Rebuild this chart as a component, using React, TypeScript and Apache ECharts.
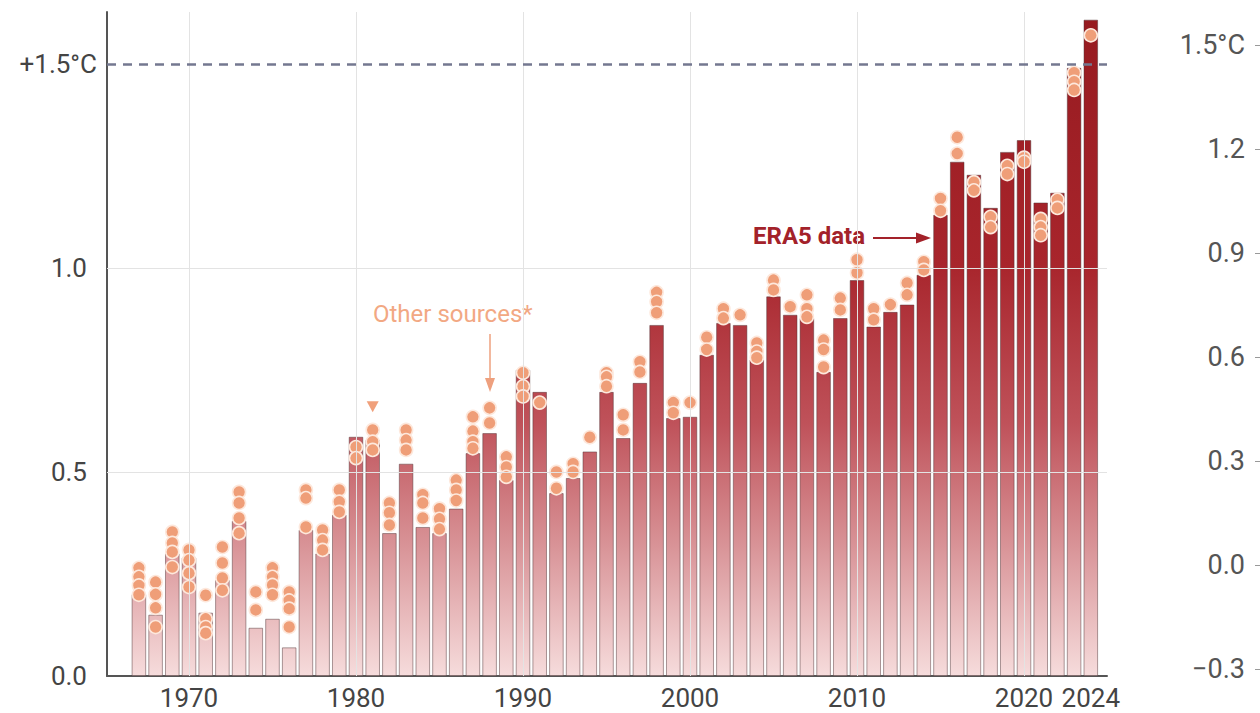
import React, { useEffect, useRef } from "react";
import * as echarts from "echarts";

const years: number[] = [];
for (let y = 1967; y <= 2024; y++) years.push(y);

const era5: number[] = [
  0.2, 0.15, 0.3, 0.29, 0.155, 0.235, 0.38, 0.118, 0.14, 0.07,
  0.358, 0.3, 0.395, 0.586, 0.578, 0.35, 0.52, 0.365, 0.35, 0.41,
  0.546, 0.595, 0.48, 0.75, 0.696, 0.448, 0.485, 0.55, 0.696, 0.583,
  0.718, 0.86, 0.632, 0.635, 0.787, 0.865, 0.86, 0.775, 0.93, 0.885,
  0.877, 0.745, 0.877, 0.97, 0.856, 0.892, 0.91, 0.983, 1.13, 1.26,
  1.228, 1.147, 1.284, 1.313, 1.16, 1.184, 1.49, 1.608,
];

const otherSources: number[][] = [
  [0.265, 0.243, 0.222, 0.199], // 1967
  [0.23, 0.2, 0.167, 0.12],
  [0.353, 0.326, 0.304, 0.267],
  [0.309, 0.284, 0.252, 0.218], // 1970
  [0.198, 0.14, 0.12, 0.105],
  [0.316, 0.277, 0.24, 0.21],
  [0.451, 0.424, 0.387, 0.35],
  [0.206, 0.162],
  [0.265, 0.243, 0.223, 0.199], // 1975
  [0.206, 0.185, 0.165, 0.12],
  [0.456, 0.436, 0.365],
  [0.358, 0.333, 0.309],
  [0.456, 0.427, 0.402],
  [0.561, 0.534], // 1980
  [0.603, 0.574, 0.554],
  [0.424, 0.4, 0.37],
  [0.603, 0.578, 0.554],
  [0.444, 0.424, 0.387],
  [0.41, 0.385, 0.36], // 1985
  [0.48, 0.456, 0.43],
  [0.635, 0.6, 0.574, 0.558],
  [0.657, 0.62],
  [0.537, 0.512, 0.488],
  [0.743, 0.71, 0.685], // 1990
  [0.67],
  [0.5, 0.46],
  [0.52, 0.5],
  [0.585],
  [0.743, 0.733, 0.71], // 1995
  [0.64, 0.603],
  [0.77, 0.745],
  [0.94, 0.917, 0.89],
  [0.67, 0.645],
  [0.67], // 2000
  [0.83, 0.8],
  [0.9, 0.877],
  [0.885],
  [0.816, 0.795, 0.78],
  [0.97, 0.946], // 2005
  [0.905],
  [0.934, 0.9, 0.88],
  [0.823, 0.8, 0.757],
  [0.926, 0.897],
  [1.02, 0.988], // 2010
  [0.9, 0.873],
  [0.91],
  [0.963, 0.934],
  [1.015, 0.995],
  [1.17, 1.14], // 2015
  [1.32, 1.28],
  [1.21, 1.19],
  [1.125, 1.1],
  [1.25, 1.23],
  [1.27, 1.26], // 2020
  [1.12, 1.1, 1.08],
  [1.167, 1.147],
  [1.478, 1.456, 1.436],
  [1.57], // 2024
];

const xLabelValues: number[] = [1970, 1980, 1990, 2000, 2010, 2020, 2024];
const xGridValues: number[] = [1970, 1980, 1990, 2000, 2010, 2020];
const yLabelValues: number[] = [0, 0.5, 1.0, 1.5];
const yGridValues: number[] = [0.5, 1.0];
const limitValue = 1.5;
const triangleMarker: number[][] = [[1981, 0.66]];

const FONT = "Roboto, 'Liberation Sans', sans-serif";

export default function App() {
  const ref = useRef<HTMLDivElement>(null);

  useEffect(() => {
    if (!ref.current) return;
    document.body.style.margin = "0";
    const chart = echarts.init(ref.current, undefined, { renderer: "svg" });

    const barData = years.map((y, i) => [y, era5[i]]);
    const pointData: number[][] = [];
    years.forEach((y, i) => {
      otherSources[i].forEach((v) => pointData.push([y, v]));
    });

    const option: any = {
      animation: false,
      backgroundColor: "#ffffff",
      grid: [
        { left: 107, right: 153, top: 12, bottom: 37 },
        { left: 1255, right: 0, top: 45, bottom: 44 },
      ],
      xAxis: [
        {
          type: "value",
          gridIndex: 0,
          min: 1965.09,
          max: 2024.97,
          axisLine: { show: true, lineStyle: { color: "#555", width: 2 } },
          axisTick: { show: false },
          splitLine: { show: false },
          axisLabel: {
            customValues: xLabelValues,
            color: "#444",
            fontFamily: FONT,
            fontSize: 26,
            margin: 9,
            formatter: (v: number) => String(v),
          },
        },
        { type: "value", gridIndex: 1, show: false, min: 0, max: 1 },
      ],
      yAxis: [
        {
          type: "value",
          gridIndex: 0,
          min: 0,
          max: 1.627,
          axisLine: { show: true, lineStyle: { color: "#555", width: 2 } },
          axisTick: { show: false },
          splitLine: { show: false },
          axisLabel: {
            customValues: yLabelValues,
            color: "#444",
            fontFamily: FONT,
            fontSize: 26,
            margin: 20,
            formatter: (v: number) => (v === 1.5 ? "" : v.toFixed(1)),
          },
        },
        {
          type: "value",
          gridIndex: 1,
          min: -0.3,
          max: 1.5,
          interval: 0.3,
          axisLine: { show: false },
          axisTick: { show: true, inside: true, length: 5, lineStyle: { color: "#999" } },
          splitLine: { show: false },
          axisLabel: {
            color: "#555",
            fontFamily: FONT,
            fontSize: 27,
            margin: 10,
            formatter: (v: number) => {
              const r = Math.round(v * 10) / 10;
              if (r === 1.5) return "1.5°C";
              if (r < 0) return "−" + Math.abs(r).toFixed(1);
              return r.toFixed(1);
            },
          },
        },
      ],
      series: [
        {
          type: "line",
          xAxisIndex: 0,
          yAxisIndex: 0,
          data: [[1970, 0]],
          symbol: "none",
          lineStyle: { opacity: 0 },
          silent: true,
          z: 1,
          markLine: {
            silent: true,
            symbol: "none",
            animation: false,
            data: [
              ...xGridValues.map((v) => ({
                xAxis: v,
                lineStyle: { color: "#e3e3e3", width: 1, type: "solid" },
                label: { show: false },
              })),
              ...yGridValues.map((v) => ({
                yAxis: v,
                lineStyle: { color: "#e3e3e3", width: 1, type: "solid" },
                label: { show: false },
              })),
              {
                yAxis: limitValue,
                lineStyle: { color: "#747890", width: 2.5, type: [9, 7] },
                label: {
                  show: true,
                  position: "start",
                  distance: 10,
                  formatter: "+1.5°C",
                  color: "#444",
                  fontFamily: FONT,
                  fontSize: 26,
                },
              },
            ],
          },
        },
        {
          name: "ERA5 data",
          type: "bar",
          xAxisIndex: 0,
          yAxisIndex: 0,
          data: barData,
          barWidth: 14.4,
          z: 2,
          itemStyle: {
            borderColor: "rgba(80,50,52,0.6)",
            borderWidth: 0.8,
            color: {
              type: "linear",
              x: 0,
              y: 12,
              x2: 0,
              y2: 676,
              global: true,
              colorStops: [
                { offset: 0, color: "#961a1f" },
                { offset: 0.38, color: "#a8252c" },
                { offset: 0.62, color: "#bf525a" },
                { offset: 0.8, color: "#d89296" },
                { offset: 1, color: "#f6dcdc" },
              ],
            },
          },
        },
        {
          name: "Other sources",
          type: "scatter",
          xAxisIndex: 0,
          yAxisIndex: 0,
          data: pointData,
          symbol: "circle",
          symbolSize: 13,
          z: 3,
          itemStyle: {
            color: "#ef9e78",
            borderColor: "#fde8dc",
            borderWidth: 1.6,
            opacity: 1,
          },
        },
        {
          name: "marker",
          type: "scatter",
          xAxisIndex: 0,
          yAxisIndex: 0,
          data: triangleMarker,
          symbol: "triangle",
          symbolRotate: 180,
          symbolSize: [12, 11],
          z: 3,
          itemStyle: { color: "#f0a07b", opacity: 1 },
        },
      ],
      graphic: [
        {
          type: "text",
          left: 753,
          top: 224,
          style: {
            text: "ERA5 data",
            fill: "#a3222a",
            font: `bold 24px ${FONT}`,
          },
        },
        {
          type: "line",
          shape: { x1: 873, y1: 238, x2: 918, y2: 238 },
          style: { stroke: "#a3222a", lineWidth: 2 },
        },
        {
          type: "polygon",
          shape: { points: [[931, 238], [916, 232.5], [916, 243.5]] },
          style: { fill: "#a3222a" },
        },
        {
          type: "text",
          left: 373,
          top: 302,
          style: {
            text: "Other sources*",
            fill: "#f2a883",
            font: `24px ${FONT}`,
          },
        },
        {
          type: "line",
          shape: { x1: 490, y1: 334, x2: 490, y2: 380 },
          style: { stroke: "#eea07e", lineWidth: 1.5 },
        },
        {
          type: "polygon",
          shape: { points: [[490, 392], [485, 378], [495, 378]] },
          style: { fill: "#eea07e" },
        },
      ],
    };

    chart.setOption(option);
    return () => chart.dispose();
  }, []);

  return (
    <div
      ref={ref}
      style={{ position: "fixed", left: 0, top: 0, width: 1260, height: 713 }}
    />
  );
}
